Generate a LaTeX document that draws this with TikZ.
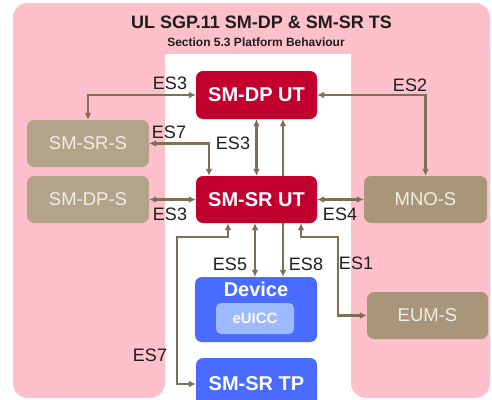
\documentclass[tikz,border=0pt]{standalone}
\usepackage{fontspec}
\setmainfont{Liberation Sans}
\usetikzlibrary{arrows.meta}
\pgfdeclarelayer{bglayer}
\pgfdeclarelayer{midlayer}
\pgfsetlayers{bglayer,midlayer,main}
\definecolor{bgpink}{HTML}{FFC0CB}
\definecolor{crimson}{HTML}{C1002E}
\definecolor{tanA}{HTML}{B3A389}
\definecolor{tanB}{HTML}{A8957A}
\definecolor{devblue}{HTML}{4A6BFF}
\definecolor{chipblue}{HTML}{9EBAFF}
\definecolor{connc}{HTML}{7E6F57}
\definecolor{tantext}{HTML}{F2EEE6}
\definecolor{lbltext}{HTML}{1E1E1E}
\begin{document}
\begin{tikzpicture}[x=1pt,y=-1pt,
  box/.style={rectangle, rounded corners=7pt, minimum width=122pt, minimum height=47pt, inner sep=0pt, align=center},
  ut/.style={box, fill=crimson, text=white, font=\fontsize{20}{22}\selectfont\bfseries},
  srv/.style={box, fill=tanA, text=tantext, font=\fontsize{18.5}{20}\selectfont},
  srvb/.style={srv, fill=tanB},
  blue/.style={box, fill=devblue, text=white, font=\fontsize{20}{22}\selectfont\bfseries},
  lbl/.style={font=\fontsize{18}{20}\selectfont, text=lbltext, inner sep=0pt},
  wire/.style={draw=connc, line width=2.2pt, {Latex[length=7pt,width=7pt]}-{Latex[length=7pt,width=7pt]}}
]
\useasboundingbox (0,0) rectangle (492,399);
% background
\begin{pgfonlayer}{bglayer}
\fill[bgpink, rounded corners=15pt] (13,3) rectangle (490,54);
\fill[bgpink, rounded corners=15pt] (13,3) rectangle (165,398);
\fill[bgpink, rounded corners=15pt] (351,3) rectangle (490,398);
\fill[white] (165,54) rectangle (351,420);
\end{pgfonlayer}
% titles
\node[font=\fontsize{18}{20}\selectfont\bfseries, text=lbltext, inner sep=0pt] (title) at (261.5,22) {UL SGP.11 SM-DP \& SM-SR TS};
\node[font=\fontsize{12}{14}\selectfont\bfseries, text=lbltext, inner sep=0pt] (subtitle) at (256,42) {Section 5.3 Platform Behaviour};
% boxes
\node[ut, minimum width=121pt, minimum height=48pt] (smdput) at (256.5,95) {SM-DP UT};
\node[ut, minimum width=121pt] (smsrut) at (256.5,199.5) {SM-SR UT};
\node[srv] (smsrs) at (88,143.5) {SM-SR-S};
\node[srv] (smdps) at (88,199.5) {SM-DP-S};
\node[srvb, minimum width=123pt] (mnos) at (425.5,199.5) {MNO-S};
\node[srvb, minimum width=121pt] (eums) at (427.5,315.5) {EUM-S};
\node[blue, minimum height=65pt] (device) at (256,309.5) {};
\node[font=\fontsize{20}{22}\selectfont\bfseries, text=white, inner sep=0pt] (devlbl) at (256,289.5) {Device};
\node[rectangle, rounded corners=5pt, fill=chipblue, minimum width=78pt, minimum height=31pt, inner sep=0pt, text=white!92!chipblue, font=\fontsize{15}{17}\selectfont\bfseries] (euicc) at (255,318.5) {eUICC};
\node[blue, minimum width=121pt, minimum height=52pt] (smsrtp) at (256.5,384) {SM-SR TP};
% helper coordinates
\coordinate (es8top) at ([xshift=26.5pt]smdput.south);
\coordinate (es8bot) at (es8top |- device.north);
\coordinate (es7a) at ([xshift=-47.5pt]smsrut.north);
\coordinate (es5a) at ([xshift=-1.5pt]smsrut.south);
\coordinate (es5b) at (es5a |- device.north);
\coordinate (es1a) at ([xshift=44.5pt]smsrut.south);
\coordinate (es1b) at (338,237);
\coordinate (es7b) at ([xshift=-28.5pt]smsrut.south);
\coordinate (es7c) at (177,237);
% connectors
\draw[wire] (smdput.west) -| (smsrs.north);
\draw[wire] (smdput.east) -| (mnos.north);
\draw[wire] (smdput.south) -- (smsrut.north);
\begin{pgfonlayer}{midlayer}
\draw[wire] (es8top) -- (es8bot);
\end{pgfonlayer}
\draw[wire] (smsrs.east) -| (es7a);
\draw[wire] (smdps.east) -- (smsrut.west);
\draw[wire] (smsrut.east) -- (mnos.west);
\draw[wire] (es5a) -- (es5b);
\draw[wire] (es1a) |- (es1b) |- (eums.west);
\draw[wire] (es7b) |- (es7c) |- (smsrtp.west);
% labels
\node[lbl] (l1) at (170,83) {ES3};
\node[lbl] (l2) at (410,85) {ES2};
\node[lbl] (l3) at (169,132) {ES7};
\node[lbl] (l4) at (233,143) {ES3};
\node[lbl] (l5) at (170,214) {ES3};
\node[lbl] (l6) at (340,214) {ES4};
\node[lbl] (l7) at (230,264) {ES5};
\node[lbl] (l8) at (306,264) {ES8};
\node[lbl] (l9) at (356,263) {ES1};
\node[lbl] (l10) at (150,355) {ES7};
\end{tikzpicture}
\end{document}
